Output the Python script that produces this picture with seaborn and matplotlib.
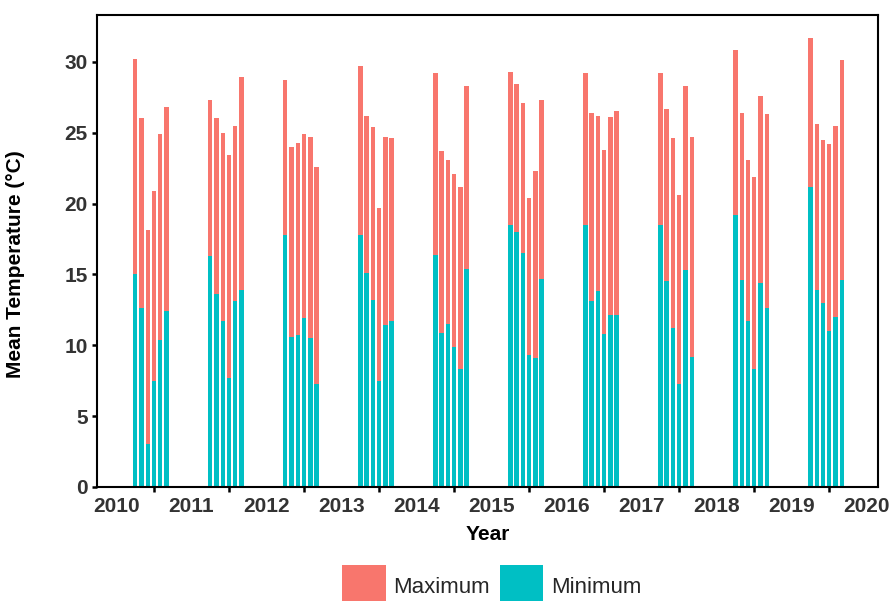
import matplotlib
matplotlib.use("Agg")
import matplotlib.pyplot as plt
from matplotlib.patches import Patch
import numpy as np
import pandas as pd
import seaborn as sns

# Monthly mean temperatures (°C), April to September of each year
years = [2010, 2011, 2012, 2013, 2014, 2015, 2016, 2017, 2018, 2019]
months = [4, 5, 6, 7, 8, 9]

t_max = [
    [30.2, 26.0, 18.1, 20.9, 24.9, 26.8],
    [27.3, 26.0, 25.0, 23.4, 25.5, 28.9],
    [28.7, 24.0, 24.3, 24.9, 24.7, 22.6],
    [29.7, 26.2, 25.4, 19.7, 24.7, 24.6],
    [29.2, 23.7, 23.1, 22.1, 21.2, 28.3],
    [29.3, 28.4, 27.1, 20.4, 22.3, 27.3],
    [29.2, 26.4, 26.2, 23.8, 26.1, 26.5],
    [29.2, 26.7, 24.6, 20.6, 28.3, 24.7],
    [30.8, 26.4, 23.1, 21.9, 27.6, 26.3],
    [31.7, 25.6, 24.5, 24.2, 25.5, 30.1],
]
t_min = [
    [15.0, 12.6, 3.0, 7.5, 10.4, 12.4],
    [16.3, 13.6, 11.7, 7.7, 13.1, 13.9],
    [17.8, 10.6, 10.7, 11.9, 10.5, 7.3],
    [17.8, 15.1, 13.2, 7.5, 11.4, 11.7],
    [16.4, 10.9, 11.5, 9.9, 8.3, 15.4],
    [18.5, 18.0, 16.5, 9.3, 9.1, 14.7],
    [18.5, 13.1, 13.8, 10.8, 12.1, 12.1],
    [18.5, 14.5, 11.2, 7.3, 15.3, 9.2],
    [19.2, 14.6, 11.7, 8.3, 14.4, 12.6],
    [21.2, 13.9, 13.0, 11.0, 12.0, 14.6],
]
year_labels = [str(y) for y in range(2010, 2021)]

# Long table with a fractional-year time coordinate for each month
rows = []
for yi, yr in enumerate(years):
    for mi, mo in enumerate(months):
        rows.append({"time": yr + (mo - 1) / 12.0,
                     "Maximum": t_max[yi][mi],
                     "Minimum": t_min[yi][mi]})
df = pd.DataFrame(rows)

RED = "#F8766D"
TEAL = "#00BFC4"

sns.set_theme(style="ticks")
plt.rcParams["font.family"] = ["Liberation Sans", "DejaVu Sans"]

fig = plt.figure(figsize=(8.92, 6.01), dpi=100)
ax = fig.add_axes([97 / 892, 1 - 487 / 601, 781 / 892, 472 / 601])

sns.barplot(data=df, x="time", y="Maximum", color=RED, saturation=1,
            native_scale=True, width=0.7, ax=ax, linewidth=0)
sns.barplot(data=df, x="time", y="Minimum", color=TEAL, saturation=1,
            native_scale=True, width=0.7, ax=ax, linewidth=0)

ax.set_xlim(2009.74, 2020.15)
ax.set_ylim(0, 33.3)

# Tick marks at mid-year, year labels at the start of each year
ax.set_xticks([y + 0.5 for y in years])
ax.set_xticklabels([])
ax.set_xticks(list(range(2010, 2021)), minor=True)
ax.set_xticklabels(year_labels, minor=True)
ax.tick_params(axis="x", which="major", length=3.8, width=1.8,
               color="black", direction="out")
ax.tick_params(axis="x", which="minor", length=0, pad=7,
               labelsize=15, labelcolor="#333333")
for lab in ax.get_xticklabels(minor=True):
    lab.set_fontweight("bold")

ax.set_yticks([0, 5, 10, 15, 20, 25, 30])
ax.tick_params(axis="y", length=3.8, width=1.8, color="black",
               pad=3, labelsize=15, labelcolor="#333333")
for lab in ax.get_yticklabels():
    lab.set_fontweight("bold")

for sp in ax.spines.values():
    sp.set_visible(True)
    sp.set_color("black")
    sp.set_linewidth(1.5)

ax.set_xlabel("Year", fontsize=15, fontweight="bold", color="black", labelpad=0)
ax.xaxis.set_label_coords(0.5, -0.08)
ax.set_ylabel("Mean Temperature (°C)", fontsize=15, fontweight="bold",
              color="black")
ax.yaxis.set_label_coords(-0.092, 0.472)

handles = [Patch(facecolor=RED, edgecolor="none", label="Maximum"),
           Patch(facecolor=TEAL, edgecolor="none", label="Minimum")]
fig.legend(handles=handles, loc="center", ncol=2,
           bbox_to_anchor=(492 / 892, 1 - 586 / 601),
           frameon=False, fontsize=16, handlelength=1.94, handleheight=2.6,
           handletextpad=0.36, columnspacing=0.45, borderpad=0)

fig.savefig("out.png", dpi=100)
